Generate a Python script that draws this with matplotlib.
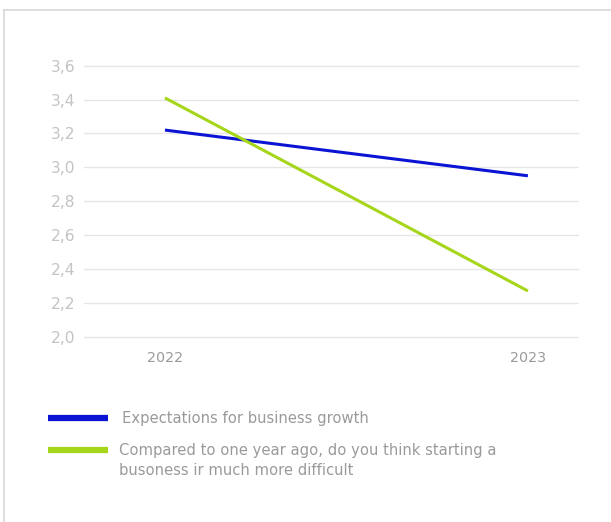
import matplotlib
matplotlib.use("Agg")
import matplotlib.pyplot as plt
from matplotlib.lines import Line2D
from matplotlib.ticker import FuncFormatter

plt.rcParams['font.family'] = ['DejaVu Sans']

years = ['2022', '2023']
growth = [3.22, 2.95]
harder = [3.41, 2.27]
labels = ['Expectations for business growth',
          'Compared to one year ago, do you think starting a\nbusoness ir much more difficult']
colors = ['#0a14d2', '#a6d61a']
y_ticks = [2.0, 2.2, 2.4, 2.6, 2.8, 3.0, 3.2, 3.4, 3.6]

W, H = 611, 522
fig = plt.figure(figsize=(W / 100, H / 100), dpi=100)
ax = fig.add_axes([84 / W, (H - 336.7) / H, (578 - 84) / W, (336.7 - 65.7) / H])

xs = list(range(len(years)))
for series, color in zip([growth, harder], colors):
    ax.plot(xs, series, color=color, lw=2.2, solid_capstyle='butt')

ax.set_xlim(-0.223, 1.138)
ax.set_ylim(y_ticks[0], y_ticks[-1])
ax.set_yticks(y_ticks)
ax.yaxis.set_major_formatter(FuncFormatter(lambda v, p: f'{v:.1f}'.replace('.', ',')))
ax.set_xticks(xs)
ax.set_xticklabels(years)
ax.tick_params(axis='y', length=0, pad=6, labelsize=11.2, labelcolor='#c4c4c4')
ax.tick_params(axis='x', length=0, pad=10.5, labelsize=10.3, labelcolor='#9a9a9a')
ax.grid(axis='y', color='#e6e6e6', lw=1)
for gl in ax.get_ygridlines():
    gl.set_clip_on(False)
ax.set_axisbelow(True)
for s in ax.spines.values():
    s.set_visible(False)

# panel frame (top and left edges only)
fig.add_artist(Line2D([4 / W, 1], [1 - 10 / H, 1 - 10 / H], color='#d8d8d8', lw=1.2))
fig.add_artist(Line2D([4 / W, 4 / W], [0, 1 - 10 / H], color='#d8d8d8', lw=1.2))

# legend
for i, (lab, color) in enumerate(zip(labels, colors)):
    y = [418, 450][i]
    fig.add_artist(Line2D([48 / W, 108 / W], [1 - y / H] * 2, color=color, lw=4.5,
                          solid_capstyle='butt'))
    fig.text([122, 119][i] / W, 1 - (y - 7) / H, lab, ha='left', va='top',
             fontsize=10.6, color='#9a9a9a', linespacing=1.45)

fig.savefig('out.png', dpi=100)
